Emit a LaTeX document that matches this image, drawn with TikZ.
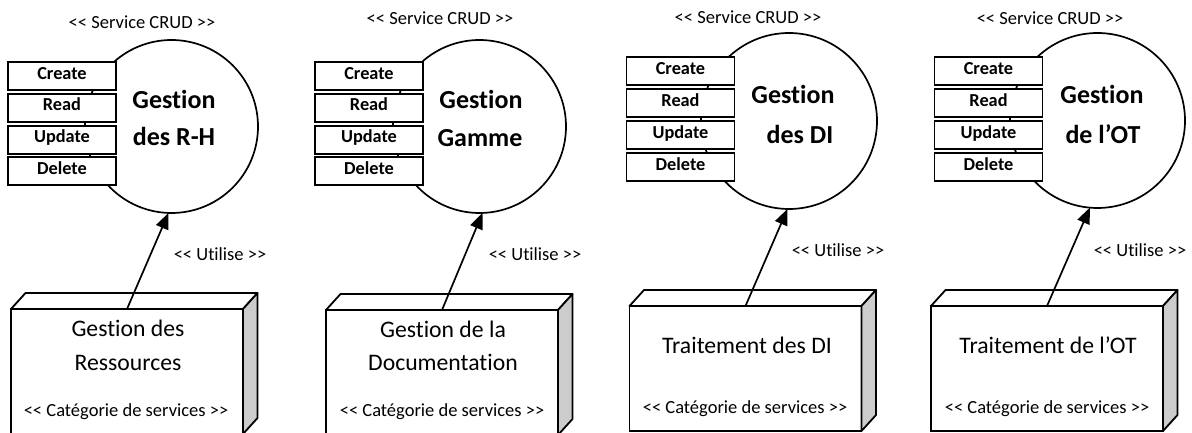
\documentclass[tikz,border=0pt]{standalone}
\usepackage{fontspec}
\setmainfont{Carlito}[Ligatures={NoCommon}]
\usetikzlibrary{arrows.meta}
\newcommand\sopen{<\kern0pt<}
\newcommand\sclose{>\kern0pt>}
\begin{document}
\begin{tikzpicture}[x=1pt,y=-1pt,
  every node/.style={inner sep=0pt, outer sep=0pt},
  stereo/.style={font=\fontsize{18.5}{22}\selectfont, text height=0.64em, text depth=0pt},
  opbox/.style={draw, fill=white, line width=1.9pt, minimum width=108pt, minimum height=28pt,
    font=\bfseries\fontsize{18.3}{21}\selectfont, text height=0.64em, text depth=0pt},
  svc/.style={circle, draw, line width=1.7pt},
  svctxt/.style={font=\bfseries\fontsize{26}{30}\selectfont, text height=0.64em, text depth=0pt},
  catbox/.style={draw, fill=white, line width=1.8pt, minimum width=232pt, minimum height=125pt},
  cattxt/.style={font=\fontsize{23.7}{28}\selectfont, text height=0.64em, text depth=0pt},
  sideface/.style={draw, line width=1.8pt, line join=round, fill=gray!40},
  topface/.style={draw, line width=1.8pt, line join=round, fill=white},
  uses/.style={line width=1.7pt, -{Triangle[length=16pt,width=13pt]}}
]
\useasboundingbox (0,0) rectangle (1192,433);
\clip (0,0) rectangle (1192,433);

% ---------- Panel 1 ----------
\node[stereo] (s1) at (142,25) {\sopen{} Service CRUD \sclose};
\node[svc, minimum size=173pt] (c1) at (171.5,126.5) {};
\node[opbox] (c1c) at (62,76) {Create};
\node[opbox] (c1r) at (62,107.8) {Read};
\node[opbox] (c1u) at (62,139.6) {Update};
\node[opbox] (c1d) at (62,171.4) {Delete};
\node[svctxt] (g1a) at (174,105) {Gestion};
\node[svctxt] (g1b) at (174,142) {des R-H};
\node[catbox] (f1) at (127,371.5) {};
\draw[topface] (f1.north west) -- ++(14.5,-16) -- ++(232,0) -- (f1.north east) -- cycle;
\draw[sideface] (f1.north east) -- ++(14.5,-16) -- ++(0,125) -- (f1.south east) -- cycle;
\node[cattxt] (t1a) at (128,333) {Gestion des};
\node[cattxt] (t1b) at (128,367) {Ressources};
\node[stereo] (k1) at (126,413) {\sopen{} Catégorie de services \sclose};
\draw[uses] (f1.north) -- (c1.-92);
\node[stereo] (u1) at (220,257) {\sopen{} Utilise \sclose};

% ---------- Panel 2 ----------
\node[stereo] (s2) at (440,21) {\sopen{} Service CRUD \sclose};
\node[svc, minimum size=173pt] (c2) at (479.5,126.5) {};
\node[opbox] (c2c) at (369,76) {Create};
\node[opbox] (c2r) at (369,107.8) {Read};
\node[opbox] (c2u) at (369,139.6) {Update};
\node[opbox] (c2d) at (369,171.4) {Delete};
\node[svctxt] (g2a) at (481,105) {Gestion};
\node[svctxt] (g2b) at (480,143) {Gamme};
\node[catbox] (f2) at (442,372.5) {};
\draw[topface] (f2.north west) -- ++(14.5,-16) -- ++(232,0) -- (f2.north east) -- cycle;
\draw[sideface] (f2.north east) -- ++(14.5,-16) -- ++(0,125) -- (f2.south east) -- cycle;
\node[cattxt] (t2a) at (443,334) {Gestion de la};
\node[cattxt] (t2b) at (443,367) {Documentation};
\node[stereo] (k2) at (442,413) {\sopen{} Catégorie de services \sclose};
\draw[uses] (f2.north) -- (c2.-88);
\node[stereo] (u2) at (535,257) {\sopen{} Utilise \sclose};

% ---------- Panel 3 ----------
\node[stereo] (s3) at (748,20) {\sopen{} Service CRUD \sclose};
\node[svc, minimum size=176pt] (c3) at (789,121) {};
\node[opbox] (c3c) at (680.5,71) {Create};
\node[opbox] (c3r) at (680.5,103) {Read};
\node[opbox] (c3u) at (680.5,135) {Update};
\node[opbox] (c3d) at (680.5,167.3) {Delete};
\node[svctxt] (g3a) at (793,100) {Gestion};
\node[svctxt] (g3b) at (800,140) {des DI};
\node[catbox] (f3) at (745.5,368.5) {};
\draw[topface] (f3.north west) -- ++(14.5,-16) -- ++(232,0) -- (f3.north east) -- cycle;
\draw[sideface] (f3.north east) -- ++(14.5,-16) -- ++(0,125) -- (f3.south east) -- cycle;
\node[cattxt] (t3a) at (747,350) {Traitement des DI};
\node[stereo] (k3) at (745,410) {\sopen{} Catégorie de services \sclose};
\draw[uses] (f3.north) -- (c3.-91);
\node[stereo] (u3) at (838,253) {\sopen{} Utilise \sclose};

% ---------- Panel 4 ----------
\node[stereo] (s4) at (1050,21) {\sopen{} Service CRUD \sclose};
\node[svc, minimum size=175pt] (c4) at (1097.5,120.5) {};
\node[opbox] (c4c) at (988.5,71) {Create};
\node[opbox] (c4r) at (988.5,103) {Read};
\node[opbox] (c4u) at (988.5,135) {Update};
\node[opbox] (c4d) at (988.5,167.3) {Delete};
\node[svctxt] (g4a) at (1102,100) {Gestion};
\node[svctxt] (g4b) at (1103,140) {de l’OT};
\node[catbox] (f4) at (1047,368.5) {};
\draw[topface] (f4.north west) -- ++(14.5,-16) -- ++(232,0) -- (f4.north east) -- cycle;
\draw[sideface] (f4.north east) -- ++(14.5,-16) -- ++(0,125) -- (f4.south east) -- cycle;
\node[cattxt] (t4a) at (1048,350) {Traitement de l’OT};
\node[stereo] (k4) at (1047,410) {\sopen{} Catégorie de services \sclose};
\draw[uses] (f4.north) -- (c4.-95);
\node[stereo] (u4) at (1140,253) {\sopen{} Utilise \sclose};
\end{tikzpicture}
\end{document}
